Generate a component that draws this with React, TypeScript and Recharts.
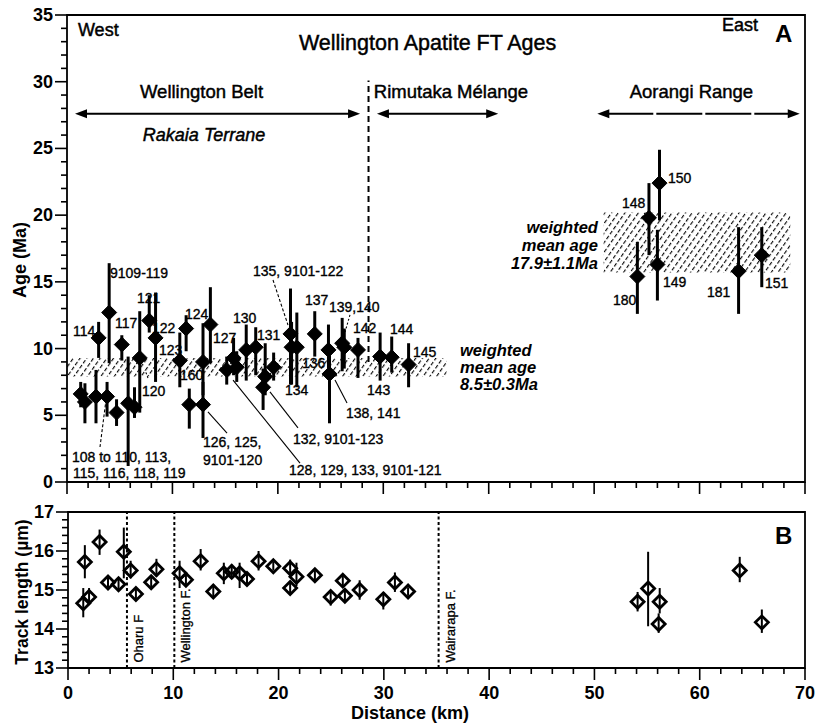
import React from "react";
import { ScatterChart, Scatter, XAxis, YAxis, ErrorBar, ReferenceArea, ReferenceLine } from "recharts";

const SANS = "'Liberation Sans', Arial, Helvetica, sans-serif";
const NARROW = "'Liberation Sans Narrow', 'Liberation Sans', Arial, sans-serif";

// A: apatite FT ages (Ma) along the west -> east section (km)
const ageDistKm = [1.3, 1.7, 2.75, 3.8, 4.7, 5.8, 6.4, 3.0, 4.0, 5.2, 6.9, 7.8, 8.4, 10.7, 11.3, 12.9, 13.6, 11.6, 12.9, 15.15, 15.8, 16.1, 17.0, 17.9, 18.8, 18.6, 19.6, 21.2, 21.3, 21.8, 23.5, 24.8, 24.9, 26.1, 26.3, 27.6, 29.7, 30.8, 32.4, 56.2, 55.2, 56.0, 54.1, 63.7, 65.9];
const ageMa = [6.6, 6.0, 6.4, 6.4, 5.2, 5.9, 5.6, 10.8, 12.7, 10.3, 9.3, 12.1, 10.8, 9.1, 11.5, 9.0, 11.8, 5.8, 5.8, 8.4, 9.3, 8.6, 9.9, 10.1, 7.9, 7.1, 8.6, 11.1, 10.1, 10.1, 11.1, 9.9, 8.1, 10.4, 10.1, 9.9, 9.4, 9.35, 8.8, 22.4, 19.8, 16.3, 15.4, 15.8, 17.0];
const ageLowMa = [5.6, 4.4, 4.4, 4.9, 4.2, 1.2, 4.8, 9.3, 8.9, 9.1, 5.2, 11.2, 7.5, 7.1, 9.8, 6.5, 8.9, 4.0, 3.3, 7.3, 8.0, 7.5, 7.6, 8.0, 6.5, 5.4, 7.6, 7.3, 7.3, 7.1, 9.4, 8.5, 4.4, 8.3, 8.5, 7.8, 7.6, 8.2, 7.1, 19.6, 17.0, 13.6, 12.6, 12.6, 14.6];
const ageHighMa = [7.5, 7.4, 8.4, 7.5, 6.2, 9.4, 7.1, 12.0, 16.4, 11.0, 12.8, 14.0, 14.2, 11.2, 12.5, 11.9, 14.6, 7.0, 7.5, 9.4, 10.8, 9.8, 11.8, 11.6, 10.4, 8.5, 9.7, 14.5, 12.0, 12.7, 12.8, 11.8, 9.5, 12.3, 11.5, 10.8, 11.2, 10.9, 10.4, 24.9, 22.4, 18.9, 18.0, 19.1, 19.1];

// weighted mean age bands (as drawn)
const westBand = { x1: 0, x2: 36, low: 7.9, high: 9.3 };
const eastBand = { x1: 50.9, x2: 68.6, low: 15.7, high: 20.2 };

// B: mean track length (µm)
const lenDistKm = [1.45, 1.6, 2.0, 3.0, 3.8, 4.8, 5.3, 5.95, 6.45, 7.9, 8.4, 10.6, 11.2, 12.6, 13.8, 14.8, 15.55, 16.3, 17.0, 18.1, 19.5, 21.1, 21.1, 21.7, 23.45, 24.95, 26.1, 26.3, 27.7, 29.95, 31.05, 32.3, 54.1, 55.1, 56.2, 56.1, 63.8, 65.9];
const lenUm = [14.66, 15.72, 14.82, 16.23, 15.19, 15.15, 15.98, 15.5, 14.9, 15.2, 15.53, 15.43, 15.26, 15.74, 14.96, 15.43, 15.47, 15.43, 15.28, 15.74, 15.61, 15.56, 15.05, 15.34, 15.38, 14.82, 15.24, 14.85, 15.0, 14.76, 15.19, 14.96, 14.7, 15.04, 14.7, 14.13, 15.5, 14.17];
const lenLowUm = [14.3, 15.3, 14.62, 15.9, 15.05, 15.02, 15.3, 15.3, 14.75, 15.05, 15.35, 15.05, 15.1, 15.5, 14.8, 15.15, 15.3, 15.05, 15.15, 15.5, 15.5, 15.35, 14.9, 15.1, 15.25, 14.6, 15.1, 14.7, 14.75, 14.5, 14.95, 14.85, 14.45, 14.07, 14.4, 13.9, 15.2, 13.9];
const lenHighUm = [15.05, 16.15, 15.05, 16.55, 15.33, 15.28, 16.6, 15.75, 15.05, 15.35, 15.8, 15.75, 15.4, 16.05, 15.15, 15.7, 15.65, 15.7, 15.42, 16.0, 15.72, 15.78, 15.2, 15.7, 15.5, 15.0, 15.4, 15.0, 15.25, 14.95, 15.45, 15.07, 14.95, 15.98, 15.05, 14.4, 15.85, 14.5];

const faultNames = ["Oharu F", "Wellington F.", "Wairarapa F."];
const faultKm = [5.6, 10.1, 35.2];

const distLabels = [0, 10, 20, 30, 40, 50, 60, 70];
const ageLabels = [0, 5, 10, 15, 20, 25, 30, 35];
const lenLabels = [13, 14, 15, 16, 17];
const distTicks = Array.from({ length: 36 }, (_, i) => i * 2);
const ageTicks = Array.from({ length: 36 }, (_, i) => i);
const lenTicks = Array.from({ length: 21 }, (_, i) => Math.round((13 + i * 0.2) * 10) / 10);

// sample numbers next to the points
const sampleLabels = [
  { text: "114", x: 0.57, y: 11.3 },
  { text: "9109-119", x: 4.08, y: 15.66 },
  { text: "117", x: 4.55, y: 11.92 },
  { text: "121", x: 6.64, y: 13.79 },
  { text: "122", x: 8.06, y: 11.54 },
  { text: "123", x: 8.73, y: 9.89 },
  { text: "120", x: 7.11, y: 6.82 },
  { text: "124", x: 11.19, y: 12.59 },
  { text: "160", x: 10.72, y: 8.02 },
  { text: "127", x: 13.85, y: 10.79 },
  { text: "130", x: 15.75, y: 12.29 },
  { text: "131", x: 18.02, y: 11.02 },
  { text: "135, 9101-122", x: 17.64, y: 15.81 },
  { text: "137", x: 22.57, y: 13.64 },
  { text: "139,140", x: 24.85, y: 13.12 },
  { text: "142", x: 27.13, y: 11.54 },
  { text: "144", x: 30.64, y: 11.47 },
  { text: "145", x: 32.82, y: 9.74 },
  { text: "136", x: 22.29, y: 8.92 },
  { text: "134", x: 20.68, y: 6.9 },
  { text: "143", x: 28.46, y: 6.9 },
  { text: "138, 141", x: 26.46, y: 5.17 },
  { text: "132, 9101-123", x: 21.44, y: 3.22 },
  { text: "128, 129, 133, 9101-121", x: 21.06, y: 0.9 },
  { text: "108 to 110, 113,", x: 0.47, y: 1.87 },
  { text: "115, 116, 118, 119", x: 0.57, y: 0.67 },
  { text: "126, 125,", x: 12.9, y: 3.0 },
  { text: "9101-120", x: 12.9, y: 1.65 },
  { text: "150", x: 57.0, y: 22.78 },
  { text: "148", x: 52.64, y: 20.91 },
  { text: "149", x: 56.53, y: 14.99 },
  { text: "180", x: 51.79, y: 13.64 },
  { text: "181", x: 60.7, y: 14.24 },
  { text: "151", x: 66.2, y: 14.91 },
];

const leaders = [
  { a: [3.13, 2.62], b: [3.7, 6.15], dash: "3 2" },
  { a: [7.68, 7.79], b: [7.4, 8.39], dash: "2 2" },
  { a: [15.18, 3.67], b: [13.37, 5.25] },
  { a: [22.1, 1.42], b: [15.75, 7.64] },
  { a: [21.91, 4.05], b: [19.25, 6.75] },
  { a: [19.54, 15.14], b: [20.96, 11.77], dash: "3 2" },
  { a: [26.56, 5.92], b: [25.42, 7.64] },
  { a: [26.84, 12.52], b: [26.37, 11.24], dash: "2 2" },
];

const notesA = [
  { text: "West", x: 1.04, y: 33.88, anchor: "start", size: 18 },
  { text: "Wellington Apatite  FT Ages", x: 34.2, y: 32.9, anchor: "middle", size: 21.5 },
  { text: "East", x: 62.13, y: 34.25, anchor: "start", size: 18 },
  { text: "A", x: 67.15, y: 33.65, anchor: "start", size: 24, weight: "bold" },
  { text: "Wellington Belt", x: 12.76, y: 29.23, anchor: "middle", size: 18.5 },
  { text: "Rakaia Terrane", x: 13.0, y: 26.0, anchor: "middle", size: 18, italic: true },
  { text: "Rimutaka Mélange", x: 36.42, y: 29.23, anchor: "middle", size: 18.5 },
  { text: "Aorangi Range", x: 59.23, y: 29.23, anchor: "middle", size: 18.5 },
  { text: "weighted", x: 37.28, y: 9.89, anchor: "start", size: 16.5, weight: "bold", italic: true },
  { text: "mean age", x: 37.28, y: 8.62, anchor: "start", size: 16.5, weight: "bold", italic: true },
  { text: "8.5±0.3Ma", x: 37.28, y: 7.38, anchor: "start", size: 16.5, weight: "bold", italic: true },
  { text: "weighted", x: 50.36, y: 19.11, anchor: "end", size: 16.5, weight: "bold", italic: true },
  { text: "mean age", x: 50.36, y: 17.76, anchor: "end", size: 16.5, weight: "bold", italic: true },
  { text: "17.9±1.1Ma", x: 50.36, y: 16.41, anchor: "end", size: 16.5, weight: "bold", italic: true },
];

const unitArrows = [
  { from: 0.76, to: 27.8, y: 27.6 },
  { from: 29.4, to: 40.9, y: 27.6 },
  { from: 50.3, to: 69.5, y: 27.6, dash: "46 3" },
];

function LeftTick(props: any) {
  const { x, y, payload, isMajor } = props;
  const v = payload.value;
  const major = isMajor(v);
  return (
    <g>
      <line x1={x} x2={x - (major ? 12 : 6)} y1={y} y2={y} stroke="#000" strokeWidth={1.6} />
      {major && (
        <text x={x - 14} y={y} textAnchor="end" dominantBaseline="central" fontFamily={SANS} fontWeight="bold" fontSize={18} fill="#000">
          {Math.round(v)}
        </text>
      )}
    </g>
  );
}

function BottomTick(props: any) {
  const { x, y, payload, showText } = props;
  const v = payload.value;
  const major = distLabels.includes(v);
  return (
    <g>
      <line x1={x} x2={x} y1={y} y2={y + (major ? 12 : 6)} stroke="#000" strokeWidth={1.6} />
      {major && showText && (
        <text x={x} y={y + 25} textAnchor="middle" dominantBaseline="central" fontFamily={SANS} fontWeight="bold" fontSize={18} fill="#000">
          {v}
        </text>
      )}
    </g>
  );
}

const filledDiamond = (p: any) => {
  const { cx, cy } = p;
  if (cx == null || cy == null) return <g />;
  const r = 7.5;
  return <path d={`M${cx},${cy - r}L${cx + r},${cy}L${cx},${cy + r}L${cx - r},${cy}Z`} fill="#000" stroke="#000" strokeWidth={1} />;
};

const openDiamond = (p: any) => {
  const { cx, cy } = p;
  if (cx == null || cy == null) return <g />;
  const r = 6.5;
  return <path d={`M${cx},${cy - r}L${cx + r},${cy}L${cx},${cy + r}L${cx - r},${cy}Z`} fill="none" stroke="#000" strokeWidth={2.8} />;
};

const sampleText = (p: any) => {
  const { cx, cy, payload } = p;
  if (cx == null) return <g />;
  return (
    <text x={cx} y={cy} dominantBaseline="central" fontFamily={NARROW} fontSize={14} fill="#000" stroke="#000" strokeWidth={0.35}>
      {payload.text}
    </text>
  );
};

const noteText = (p: any) => {
  const { cx, cy, payload } = p;
  if (cx == null) return <g />;
  return (
    <text
      x={cx}
      y={cy}
      textAnchor={payload.anchor}
      dominantBaseline="central"
      fontFamily={SANS}
      fontSize={payload.size}
      fontWeight={payload.weight || "normal"}
      fontStyle={payload.italic ? "italic" : "normal"}
      fill="#000"
      stroke="#000"
      strokeWidth={payload.weight ? 0 : 0.45}
    >
      {payload.text}
    </text>
  );
};

const faultText = (p: any) => {
  const { cx, cy, payload } = p;
  if (cx == null) return <g />;
  return (
    <text x={cx} y={cy} transform={`rotate(-90 ${cx} ${cy})`} dominantBaseline="central" fontFamily={NARROW} fontSize={13} fill="#000" stroke="#000" strokeWidth={0.3}>
      {payload.text}
    </text>
  );
};

function ArrowSeg(props: any) {
  const { x1, y1, x2, y2, dash } = props;
  if (x1 == null) return <g />;
  const h = 12;
  const w = 4.5;
  return (
    <g>
      <line x1={x1 + h - 2} x2={x2 - h + 2} y1={y1} y2={y2} stroke="#000" strokeWidth={2.2} strokeDasharray={dash} />
      <polygon points={`${x1},${y1} ${x1 + h},${y1 - w} ${x1 + h},${y1 + w}`} fill="#000" />
      <polygon points={`${x2},${y2} ${x2 - h},${y2 - w} ${x2 - h},${y2 + w}`} fill="#000" />
    </g>
  );
}

export default function App() {
  const ageRows = ageDistKm.map((x, i) => ({ x, y: ageMa[i], err: [ageMa[i] - ageLowMa[i], ageHighMa[i] - ageMa[i]] }));
  const lenRows = lenDistKm.map((x, i) => ({ x, y: lenUm[i], err: [lenUm[i] - lenLowUm[i], lenHighUm[i] - lenUm[i]] }));
  const faultLabelRows = faultNames.map((text, i) => ({ text, x: faultKm[i] + 1.1, y: 13.14 }));
  const panelB = [{ text: "B", x: 67.14, y: 16.41, anchor: "start", size: 24, weight: "bold" }];

  return (
    <div style={{ position: "absolute", left: 0, top: 0, width: 815, height: 726, background: "#fff" }}>
      <svg width={815} height={726} style={{ position: "absolute", left: 0, top: 0, pointerEvents: "none" }}>
        <defs>
          <pattern id="hatch" patternUnits="userSpaceOnUse" width={5.5} height={6} patternTransform="rotate(35)">
            <line x1={1.5} y1={0} x2={1.5} y2={6} stroke="#000" strokeWidth={1.1} strokeDasharray="4 2" />
          </pattern>
        </defs>
        <text x={20} y={260} transform="rotate(-90 20 260)" textAnchor="middle" dominantBaseline="central" fontFamily={SANS} fontWeight="bold" fontSize={18}>
          Age (Ma)
        </text>
        <text x={22} y={592} transform="rotate(-90 22 592)" textAnchor="middle" dominantBaseline="central" fontFamily={SANS} fontWeight="bold" fontSize={17.5}>
          Track length (µm)
        </text>
        <text x={410} y={713} textAnchor="middle" dominantBaseline="central" fontFamily={SANS} fontWeight="bold" fontSize={18}>
          Distance (km)
        </text>
      </svg>

      <div style={{ position: "absolute", left: 0, top: 0 }}>
        <ScatterChart width={815} height={500} margin={{ top: 15, right: 10, bottom: 0, left: 0 }}>
          <XAxis
            type="number"
            dataKey="x"
            domain={[0, 70]}
            ticks={distTicks}
            interval={0}
            allowDataOverflow
            axisLine={false}
            tickLine={false}
            tickSize={0}
            tickMargin={0}
            height={18}
            tick={(p: any) => <BottomTick {...p} showText={false} />}
          />
          <YAxis
            type="number"
            dataKey="y"
            domain={[0, 35]}
            ticks={ageTicks}
            interval={0}
            allowDataOverflow
            axisLine={false}
            tickLine={false}
            tickSize={0}
            tickMargin={0}
            width={67}
            tick={(p: any) => <LeftTick {...p} isMajor={(v: number) => ageLabels.includes(v)} />}
          />
          <ReferenceArea x1={westBand.x1} x2={westBand.x2} y1={westBand.low} y2={westBand.high} fill="url(#hatch)" fillOpacity={1} stroke="none" />
          <ReferenceArea x1={eastBand.x1} x2={eastBand.x2} y1={eastBand.low} y2={eastBand.high} fill="url(#hatch)" fillOpacity={1} stroke="none" />
          <ReferenceArea x1={0} x2={70} y1={0} y2={35} fill="none" stroke="#000" strokeWidth={1.8} />
          <ReferenceLine segment={[{ x: 28.6, y: 9 }, { x: 28.6, y: 30.1 }]} stroke="#000" strokeWidth={2} strokeDasharray="6 4" />
          {unitArrows.map((a, i) => (
            <ReferenceLine key={`ar${i}`} segment={[{ x: a.from, y: a.y }, { x: a.to, y: a.y }]} shape={(p: any) => <ArrowSeg {...p} dash={a.dash} />} />
          ))}
          {leaders.map((l, i) => (
            <ReferenceLine key={`ld${i}`} segment={[{ x: l.a[0], y: l.a[1] }, { x: l.b[0], y: l.b[1] }]} stroke="#000" strokeWidth={1.1} strokeDasharray={l.dash} />
          ))}
          <Scatter data={ageRows} shape={filledDiamond} isAnimationActive={false}>
            <ErrorBar dataKey="err" direction="y" width={0} stroke="#000" strokeWidth={3} />
          </Scatter>
          <Scatter data={sampleLabels} shape={sampleText} isAnimationActive={false} />
          <Scatter data={notesA} shape={noteText} isAnimationActive={false} />
        </ScatterChart>
      </div>

      <div style={{ position: "absolute", left: 0, top: 500 }}>
        <ScatterChart width={815} height={226} margin={{ top: 12, right: 10, bottom: 0, left: 0 }}>
          <XAxis
            type="number"
            dataKey="x"
            domain={[0, 70]}
            ticks={distTicks}
            interval={0}
            allowDataOverflow
            axisLine={false}
            tickLine={false}
            tickSize={0}
            tickMargin={0}
            height={58}
            tick={(p: any) => <BottomTick {...p} showText />}
          />
          <YAxis
            type="number"
            dataKey="y"
            domain={[13, 17]}
            ticks={lenTicks}
            interval={0}
            allowDataOverflow
            axisLine={false}
            tickLine={false}
            tickSize={0}
            tickMargin={0}
            width={68}
            tick={(p: any) => <LeftTick {...p} isMajor={(v: number) => Math.abs(v - Math.round(v)) < 1e-6 && lenLabels.includes(Math.round(v))} />}
          />
          <ReferenceArea x1={0} x2={70} y1={13} y2={17} fill="none" stroke="#000" strokeWidth={1.8} />
          {faultKm.map((k, i) => (
            <ReferenceLine key={`f${i}`} segment={[{ x: k, y: 13 }, { x: k, y: 17 }]} stroke="#000" strokeWidth={2} strokeDasharray="3 2.5" />
          ))}
          <Scatter data={lenRows} shape={openDiamond} isAnimationActive={false}>
            <ErrorBar dataKey="err" direction="y" width={0} stroke="#000" strokeWidth={2} />
          </Scatter>
          <Scatter data={faultLabelRows} shape={faultText} isAnimationActive={false} />
          <Scatter data={panelB} shape={noteText} isAnimationActive={false} />
        </ScatterChart>
      </div>
    </div>
  );
}
